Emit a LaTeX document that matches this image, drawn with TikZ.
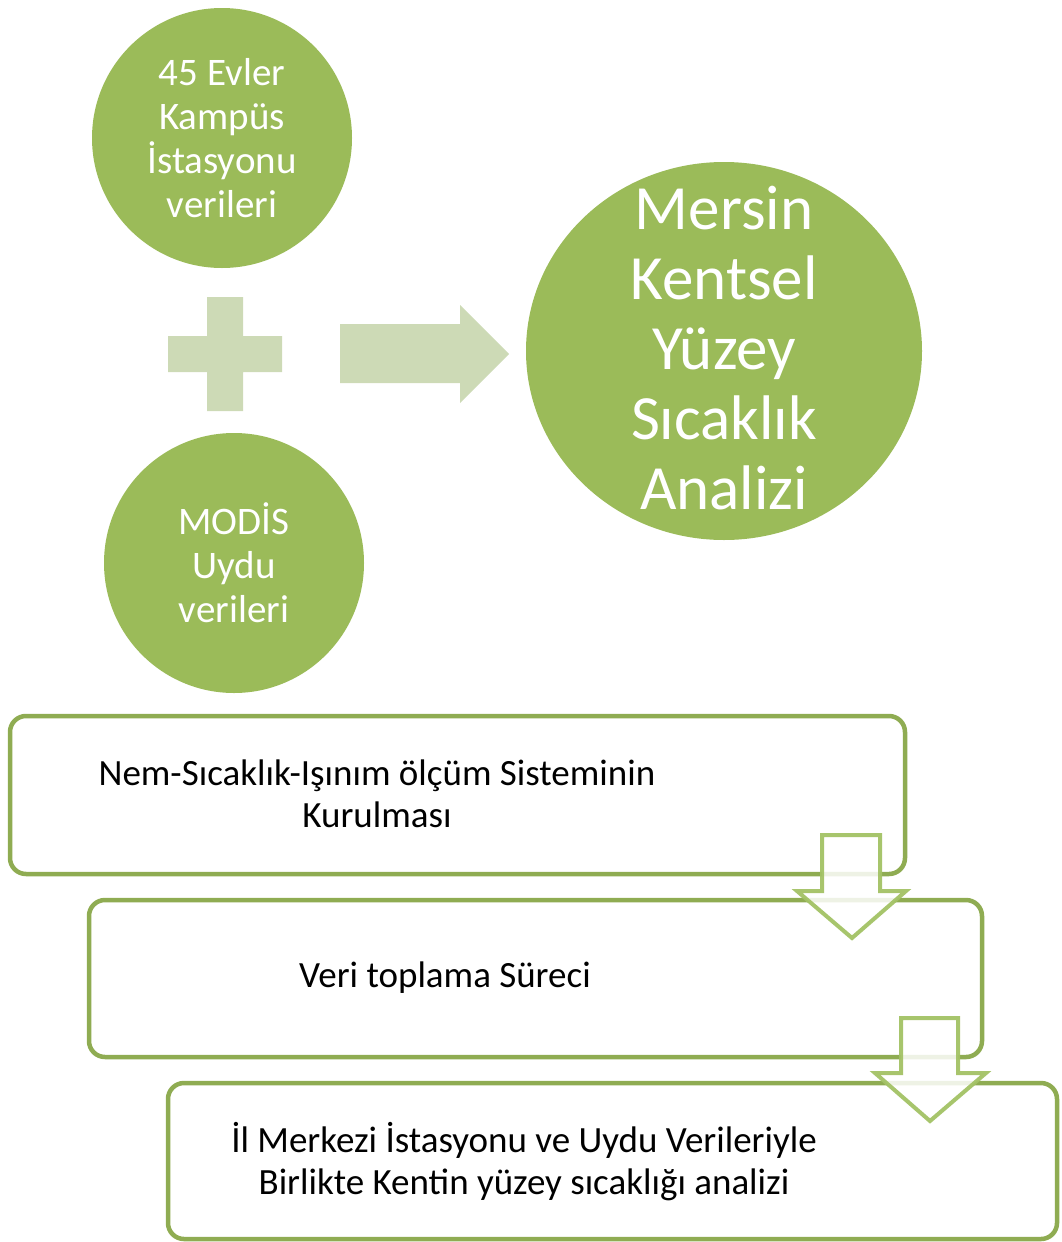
\documentclass[tikz,border=0pt]{standalone}
\usepackage{fontspec}
\setmainfont{Carlito}
\definecolor{olive}{HTML}{9BBB59}
\definecolor{olivelight}{HTML}{CDDAB6}
\definecolor{boxline}{HTML}{8FAC52}
\definecolor{arrowline}{HTML}{A3C265}
\begin{document}
\begin{tikzpicture}[x=1pt,y=-1pt,
  bubtext/.style={inner sep=0pt, text=white, align=center},
  stagebox/.style={draw=boxline, line width=4.5pt, rounded corners=16pt, fill=white},
  boxtext/.style={align=center, text=black, font=\fontsize{37}{42}\selectfont},
  downarrow/.style={draw=arrowline, line width=4pt, fill=white, fill opacity=0.85, draw opacity=0.95, line join=miter},
  lightshape/.style={fill=olivelight}
]
\useasboundingbox (0,0) rectangle (1061,1242);
% circles
\fill[olive] (222,138) circle[radius=130];
\node[bubtext, font=\fontsize{39}{44}\selectfont] (c1) at (222,138) {45 Evler\\Kampüs\\İstasyonu\\verileri};
\fill[olive] (234,563) circle[radius=130];
\node[bubtext, font=\fontsize{39}{44}\selectfont] (c2) at (234,563) {MODİS\\Uydu\\verileri};
\fill[olive] (724,351) ellipse[x radius=198, y radius=189];
\node[bubtext, font=\fontsize{63}{70}\selectfont] (big) at (724,348) {Mersin\\Kentsel\\Yüzey\\Sıcaklık\\Analizi};
% plus
\fill[lightshape] (207,297) -- (243,297) -- (243,336) -- (282,336) -- (282,372) -- (243,372) -- (243,411) -- (207,411) -- (207,372) -- (168,372) -- (168,336) -- (207,336) -- cycle;
% right arrow
\fill[lightshape] (340,324) -- (460,324) -- (460,305) -- (509,354) -- (460,403) -- (460,383) -- (340,383) -- cycle;
% boxes
\draw[stagebox] (10,716) rectangle (905,874);
\node[boxtext] (t1) at (377,794) {Nem-Sıcaklık-Işınım ölçüm Sisteminin\\Kurulması};
\draw[stagebox] (89,900) rectangle (982,1057);
\node[boxtext] (t2) at (445,978) {Veri toplama Süreci};
\draw[downarrow] (822,835) -- (880,835) -- (880,891) -- (906,891) -- (852,938) -- (797,891) -- (822,891) -- cycle;
\draw[stagebox] (168,1083) rectangle (1057,1239);
\node[boxtext] (t3) at (524,1162) {İl Merkezi İstasyonu ve Uydu Verileriyle\\Birlikte Kentin yüzey sıcaklığı analizi};
\draw[downarrow] (901,1018) -- (958,1018) -- (958,1073) -- (986,1073) -- (930,1121) -- (875,1073) -- (901,1073) -- cycle;
\end{tikzpicture}
\end{document}
